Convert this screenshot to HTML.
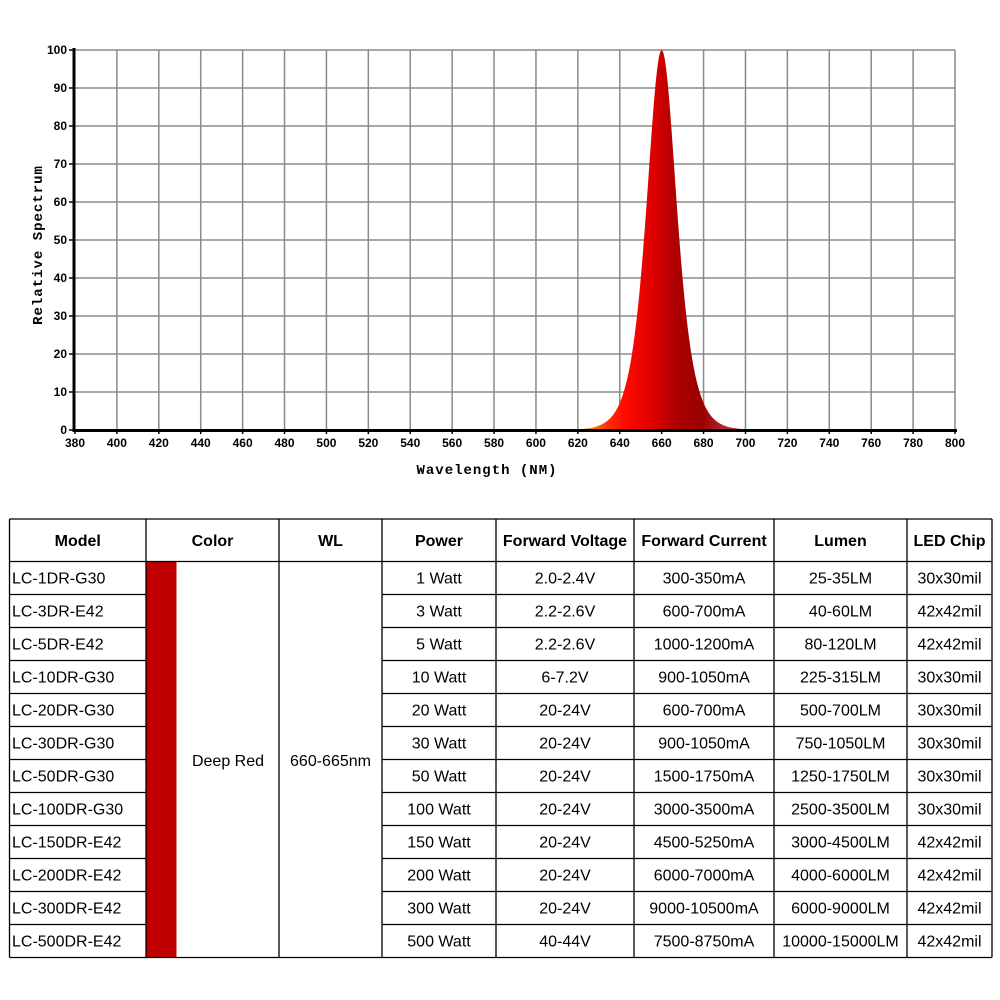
<!DOCTYPE html>
<html><head><meta charset="utf-8"><style>
html,body{margin:0;padding:0;background:#fff;width:1000px;height:1000px;overflow:hidden}
svg{display:block}
text{font-family:"Liberation Sans",Arial,sans-serif}
</style></head><body>
<svg id="s" width="1000" height="1000" viewBox="0 0 1000 1000" xmlns="http://www.w3.org/2000/svg">
<defs>
<linearGradient id="g" x1="590" x2="730" y1="0" y2="0" gradientUnits="userSpaceOnUse">
<stop offset="0" stop-color="#ff9000"/>
<stop offset="0.12" stop-color="#ff3000"/>
<stop offset="0.25" stop-color="#ff0a00"/>
<stop offset="0.45" stop-color="#dd0000"/>
<stop offset="0.6" stop-color="#b00000"/>
<stop offset="0.8" stop-color="#990000"/>
<stop offset="1" stop-color="#c03030"/>
</linearGradient>
</defs>
<g id="grid" stroke="#8a8a8a" stroke-width="1.5"></g>
<path id="peak" fill="url(#g)"/>
<g id="axes" stroke="#000" stroke-width="3"></g>
<g id="labels" font-size="12" font-weight="bold" fill="#000"></g>
<text x="487" y="474" font-size="14" font-weight="bold" text-anchor="middle" letter-spacing="1" style="font-family:'Liberation Mono',monospace">Wavelength (NM)</text>
<text transform="translate(42,245) rotate(-90)" font-size="14" font-weight="bold" text-anchor="middle" letter-spacing="1" style="font-family:'Liberation Mono',monospace">Relative Spectrum</text>
<g id="tbl"></g>
</svg>
<script>
var NS="http://www.w3.org/2000/svg";
function el(p,t,a,txt){var e=document.createElementNS(NS,t);for(var k in a)e.setAttribute(k,a[k]);if(txt!=null)e.textContent=txt;document.getElementById(p).appendChild(e);return e;}
var X=function(w){return 75+(w-380)*880/420;},Y=function(v){return 430-v*3.8;};
for(var w=400;w<=800;w+=20)el("grid","line",{x1:X(w),x2:X(w),y1:50,y2:430});
for(var v=10;v<=100;v+=10)el("grid","line",{x1:75,x2:955,y1:Y(v),y2:Y(v)});
for(var w=380;w<=800;w+=20){el("labels","text",{x:X(w),y:447,"text-anchor":"middle"},w);el("axes","line",{x1:X(w),x2:X(w),y1:430,y2:434,"stroke-width":1.5});}
for(var v=0;v<=100;v+=10){el("labels","text",{x:67,y:Y(v)+4,"text-anchor":"end"},v);el("axes","line",{x1:69,x2:75,y1:Y(v),y2:Y(v),"stroke-width":1.5});}
el("axes","line",{x1:74,x2:74,y1:48,y2:432});
el("axes","line",{x1:73,x2:957,y1:430.5,y2:430.5});
var d="M"+X(605)+",430";
for(var w=605;w<=720;w+=0.5){var v=100*Math.pow(1/Math.cosh(0.1224*(w-660)),1.5);d+=" L"+X(w).toFixed(2)+","+Y(v).toFixed(2);}
d+=" L"+X(720)+",430 Z";document.getElementById("peak").setAttribute("d",d);
var cols=[9.5,146,279,382,496,634,774,907,992];
var tTop=519,hb=561.5,rh=33;
var hdr=["Model","Color","WL","Power","Forward Voltage","Forward Current","Lumen","LED Chip"];
var rows=[["LC-1DR-G30","1 Watt","2.0-2.4V","300-350mA","25-35LM","30x30mil"],
["LC-3DR-E42","3 Watt","2.2-2.6V","600-700mA","40-60LM","42x42mil"],
["LC-5DR-E42","5 Watt","2.2-2.6V","1000-1200mA","80-120LM","42x42mil"],
["LC-10DR-G30","10 Watt","6-7.2V","900-1050mA","225-315LM","30x30mil"],
["LC-20DR-G30","20 Watt","20-24V","600-700mA","500-700LM","30x30mil"],
["LC-30DR-G30","30 Watt","20-24V","900-1050mA","750-1050LM","30x30mil"],
["LC-50DR-G30","50 Watt","20-24V","1500-1750mA","1250-1750LM","30x30mil"],
["LC-100DR-G30","100 Watt","20-24V","3000-3500mA","2500-3500LM","30x30mil"],
["LC-150DR-E42","150 Watt","20-24V","4500-5250mA","3000-4500LM","42x42mil"],
["LC-200DR-E42","200 Watt","20-24V","6000-7000mA","4000-6000LM","42x42mil"],
["LC-300DR-E42","300 Watt","20-24V","9000-10500mA","6000-9000LM","42x42mil"],
["LC-500DR-E42","500 Watt","40-44V","7500-8750mA","10000-15000LM","42x42mil"]];
var bot=hb+12*rh;
el("tbl","rect",{x:146,y:hb,width:30.5,height:bot-hb,fill:"#c00000"});
function ln(a,b,c,d2){el("tbl","line",{x1:a,y1:b,x2:c,y2:d2,stroke:"#000","stroke-width":1.3});}
ln(cols[0],tTop,cols[8],tTop);ln(cols[0],hb,cols[8],hb);ln(cols[0],bot,cols[8],bot);
for(var i=1;i<12;i++){var y=hb+i*rh;ln(cols[0],y,cols[1],y);ln(cols[3],y,cols[8],y);}
for(var c=0;c<9;c++)ln(cols[c],tTop,cols[c],bot);
for(var c=0;c<8;c++)el("tbl","text",{x:(cols[c]+cols[c+1])/2,y:546,"text-anchor":"middle","font-size":16,"font-weight":"bold"},hdr[c]);
for(var r=0;r<12;r++){var y=hb+r*rh+22;var R=rows[r];
el("tbl","text",{x:12,y:y,"font-size":16},R[0]);
for(var c=1;c<6;c++)el("tbl","text",{x:(cols[c+2]+cols[c+3])/2,y:y,"text-anchor":"middle","font-size":16},R[c]);}
el("tbl","text",{x:228,y:766,"text-anchor":"middle","font-size":16},"Deep Red");
el("tbl","text",{x:330.5,y:766,"text-anchor":"middle","font-size":16},"660-665nm");
</script>
</body></html>
